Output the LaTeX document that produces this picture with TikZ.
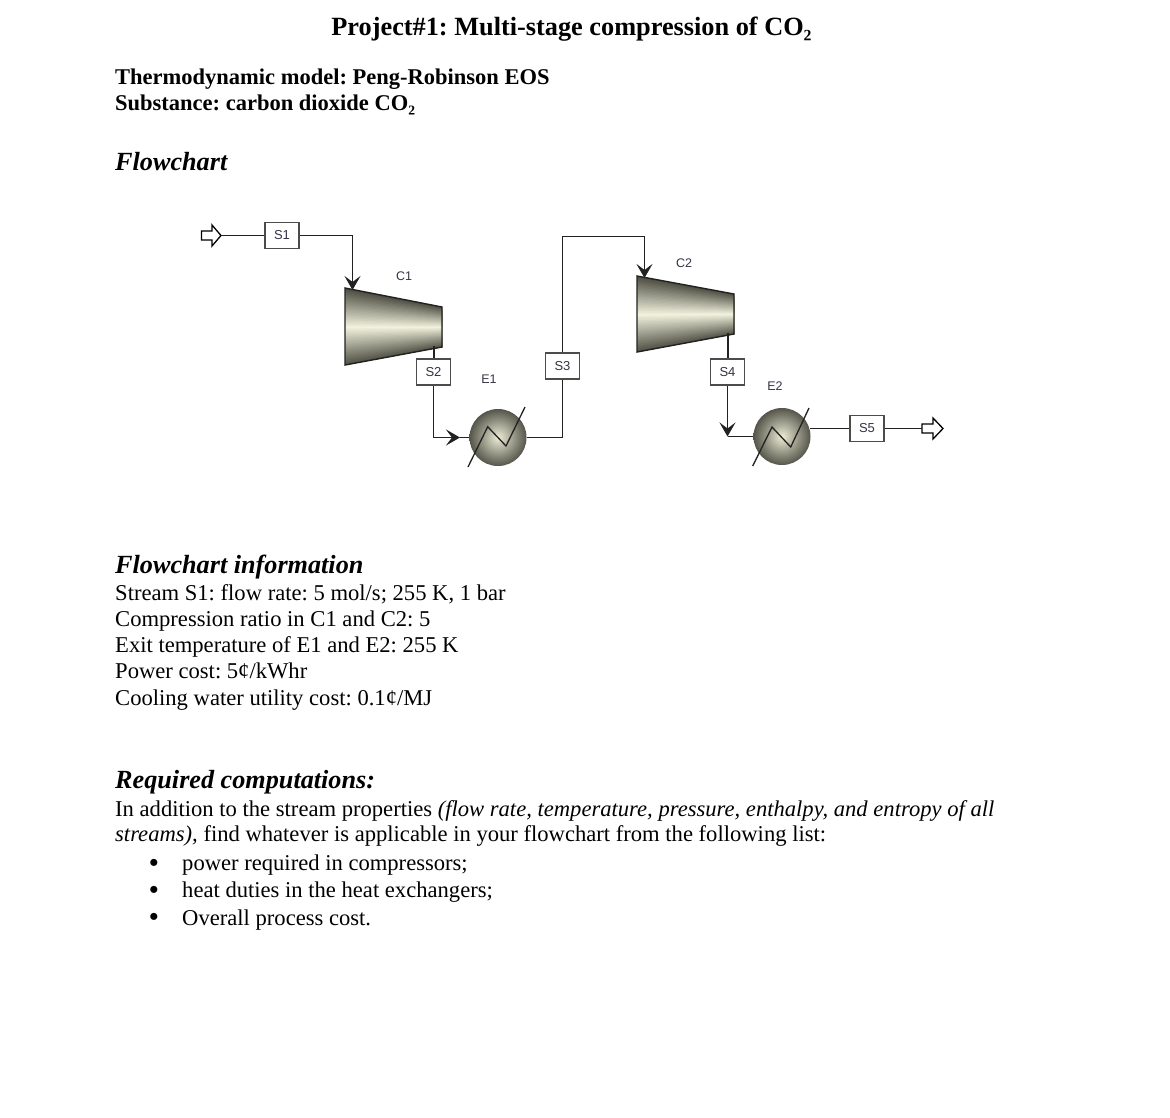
\documentclass[tikz,border=0pt]{standalone}
\usepackage{fontspec}
\setmainfont{Liberation Serif}
\newfontfamily\labelfont{Liberation Sans}
\usetikzlibrary{arrows.meta}
\definecolor{shadeDark}{HTML}{4E4E42}
\definecolor{shadeLight}{HTML}{F2F2DF}
\definecolor{hxLight}{HTML}{ECECD6}
\definecolor{hxDark}{HTML}{55554A}
\definecolor{lineDark}{HTML}{222222}
\definecolor{labelInk}{HTML}{333344}
\pgfdeclareradialshading{hxball}{\pgfpoint{0bp}{0bp}}{color(0bp)=(hxLight); color(25bp)=(hxDark); color(50bp)=(hxDark)}
\newcommand{\compressorBody}[6]{% xl ytl ybl xr ytr ybr : tapered strips
  \foreach \i in {0,...,48}{
    \pgfmathsetmacro{\tt}{\i/48}
    \pgfmathsetmacro{\pp}{100*(1-abs(2*\tt-1))}
    \pgfmathsetmacro{\ya}{#2+(#3-#2)*\tt}
    \pgfmathsetmacro{\yb}{#5+(#6-#5)*\tt}
    \fill[shadeLight!\pp!shadeDark] (#1,\ya) -- (#4,\yb) -- (#4,#6) -- (#1,#3) -- cycle;
  }
  \draw[lineDark,line width=1.4pt,line join=miter] (#1,#2) -- (#4,#5) -- (#4,#6) -- (#1,#3) -- cycle;
}
\tikzset{
  stream/.style={draw=lineDark,line width=1.4pt},
  exitstub/.style={draw=lineDark,line width=2pt},
  flowin/.style={stream,-{Stealth[inset=6pt,length=14pt,width=16pt]}},
  streamtag/.style={draw=black!70,line width=1.3pt,fill=white,minimum width=34pt,minimum height=26pt,inner sep=0pt,font=\labelfont\fontsize{13}{14}\selectfont,text=labelInk},
  unitname/.style={inner sep=0pt,font=\labelfont\fontsize{12.5}{14}\selectfont,text=labelInk},
  exchanger/.style={circle,minimum size=57pt,inner sep=0pt,shading=hxball},
  zigzag/.style={draw=lineDark,line width=1.3pt},
  portarrow/.style={draw=black,fill=white,line width=1.3pt,line join=miter},
  txt/.style={anchor=base west,inner sep=0pt,font=\frenchspacing\fontsize{22.6}{27}\selectfont},
  head/.style={txt,font=\frenchspacing\bfseries\fontsize{22.5}{27}\selectfont},
  sect/.style={txt,font=\frenchspacing\bfseries\itshape\fontsize{26.2}{30}\selectfont},
  bulletmark/.style={anchor=base,inner sep=0pt,font=\bfseries\fontsize{26}{27}\selectfont},
}
\begin{document}
\begin{tikzpicture}[x=1pt,y=-1pt]
\useasboundingbox (0,0) rectangle (1170,1117);
% --- texts
\node[anchor=base,inner sep=0pt,font=\frenchspacing\bfseries\fontsize{26.3}{30}\selectfont] (title) at (571.5,35) {Project\#1: Multi-stage compression of CO₂};
\node[head] (model) at (115,84) {Thermodynamic model: Peng-Robinson EOS};
\node[head] (subst) at (115,110) {Substance: carbon dioxide CO₂};
\node[sect] (fc) at (115,170) {Flowchart};
\node[sect] (fi) at (115,573) {Flowchart information};
\node[txt] (i1) at (115,600) {Stream S1: flow rate: 5 mol/s; 255 K, 1 bar};
\node[txt] (i2) at (115,626) {Compression ratio in C1 and C2: 5};
\node[txt] (i3) at (115,652) {Exit temperature of E1 and E2: 255 K};
\node[txt] (i4) at (115,678) {Power cost: 5¢/kWhr};
\node[txt] (i5) at (115,705) {Cooling water utility cost: 0.1¢/MJ};
\node[sect] (rc) at (115,788) {Required computations:};
\node[txt] (r1) at (115,816) {In addition to the stream properties \textit{(flow rate, temperature, pressure, enthalpy, and entropy of all}};
\node[txt] (r2) at (115,841) {\textit{streams),} find whatever is applicable in your flowchart from the following list:};
\node[bulletmark] (b1) at (154,871) {•};
\node[bulletmark] (b2) at (154,898) {•};
\node[bulletmark] (b3) at (154,925) {•};
\node[txt] (l1) at (182,870) {power required in compressors;};
\node[txt] (l2) at (182,897) {heat duties in the heat exchangers;};
\node[txt] (l3) at (182,925) {Overall process cost.};
% --- equipment
\compressorBody{345}{288}{365}{442}{307}{347}
\compressorBody{637}{276}{352}{734}{294}{334}
\coordinate (C1out) at (433.5,346);
\coordinate (C2out) at (727.5,333);
\node[exchanger] (E1) at (498,437.5) {};
\node[exchanger] (E2) at (782,436.5) {};
\draw[zigzag] (468,467) -- (487.7,426.7) -- (506,446) -- (525,407);
\draw[zigzag] (752.7,466) -- (772,427) -- (790.7,447) -- (809,408);
\node[unitname] (LC1) at (404,276) {C1};
\node[unitname] (LE1) at (489,379) {E1};
\node[unitname] (LC2) at (684,263) {C2};
\node[unitname] (LE2) at (775,386) {E2};
% --- stream tags
\node[streamtag] (S1) at (282,235.5) {S1};
\node[streamtag] (S2) at (433.5,372) {S2};
\node[streamtag] (S3) at (562.5,366) {S3};
\node[streamtag] (S4) at (727.5,372) {S4};
\node[streamtag] (S5) at (867,428.5) {S5};
% --- ports
\coordinate (In) at (221,235.5);
\coordinate (Out) at (922,428.5);
\coordinate (ExitE2) at (810,428.5);
\draw[portarrow] (201.5,231) -- (212,231) -- (212,225) -- (221,235.5) -- (212,246) -- (212,240) -- (201.5,240) -- cycle;
\draw[portarrow] (922,424) -- (933,424) -- (933,418) -- (943,428.5) -- (933,439) -- (933,433) -- (922,433) -- cycle;
% --- connectors
\coordinate (a1) at (352.5,235.5);
\coordinate (a2) at (352.5,290);
\coordinate (b2c) at (433.5,437.5);
\coordinate (b3c) at (460,437.5);
\coordinate (c1) at (562.5,437.5);
\coordinate (c2) at (562.5,236.5);
\coordinate (c3) at (644.5,236.5);
\coordinate (c4) at (644.5,278);
\coordinate (d1) at (727.5,436.5);
\draw[stream] (In) -- (S1);
\draw[flowin] (S1) -- (a1) -- (a2);
\draw[exitstub] (C1out) -- (S2);
\draw[flowin] (S2) -- (b2c) -- (b3c);
\draw[stream] (b3c) -- (E1);
\draw[stream] (E1) -- (c1) -- (S3);
\draw[flowin] (S3) -- (c2) -- (c3) -- (c4);
\draw[exitstub] (C2out) -- (S4);
\draw[flowin] (S4) -- (d1);
\draw[stream] (d1) -- (E2);
\draw[stream] (ExitE2) -- (S5);
\draw[stream] (S5) -- (Out);
\end{tikzpicture}
\end{document}
